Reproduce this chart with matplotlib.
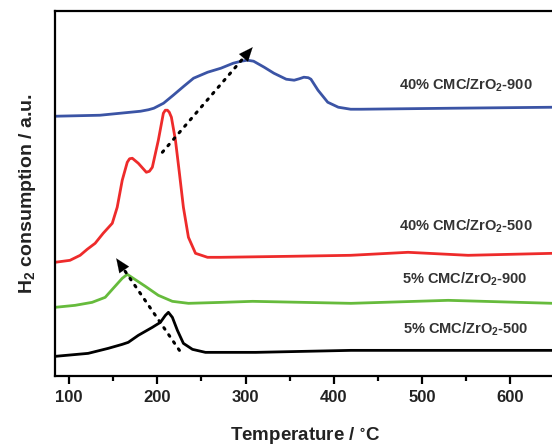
import matplotlib
matplotlib.use("Agg")
from matplotlib import pyplot as plt

plt.rcParams['font.family'] = ['Liberation Sans', 'DejaVu Sans']
plt.rcParams['font.weight'] = 'bold'
plt.rcParams['mathtext.default'] = 'regular'

# 40% CMC/ZrO2-900 (blue)
t_blue = [84, 135, 158, 181, 190, 196, 207, 218, 230, 241, 257, 272, 286, 295, 302, 309,
          321, 332, 346, 355, 361, 366, 371, 374, 382, 393, 405, 419, 431, 533, 649]
h_blue = [260, 261, 263, 265, 266.5, 268, 273, 281, 290, 298, 304, 308, 313, 315, 316, 315,
          309, 303, 297, 296, 297.5, 299, 298.5, 297, 286, 274, 269, 267, 267, 268, 269]

# 40% CMC/ZrO2-500 (red)
t_red = [84, 101, 112.5, 120.5, 129.5, 138.6, 148.9, 154.5, 160.2, 165.9, 168.5, 171.6,
         178.4, 187.5, 191, 194.3, 201.1, 206.8, 209, 211.4, 213.5, 215.9, 220.5, 225,
         229.5, 235.2, 243.2, 256.8, 271.6, 350, 419, 484, 552, 649]
h_red = [114, 116, 121, 127, 133, 143, 153, 169, 196, 214, 217.5, 218,
         213, 204, 205, 209, 236, 263, 266, 266, 264, 259, 236, 203,
         169, 139, 123, 119, 119, 120, 121, 124, 121, 123]

# 5% CMC/ZrO2-900 (green)
t_green = [84, 106.8, 126.1, 140.9, 150, 160.2, 165.9, 172.7, 186.4, 201.1, 217,
           235.2, 273.9, 308, 419.3, 529.5, 649]
h_green = [69, 71, 74, 79, 88, 98, 102, 98, 90, 81, 75,
           73, 74, 75, 73, 76, 73]

# 5% CMC/ZrO2-500 (black)
t_black = [84, 121.6, 144.3, 160.2, 167, 178.4, 194.3, 203.4, 209.1, 212.5, 217,
           222.7, 229.5, 239.8, 254.5, 280.7, 311.4, 419.3, 649]
h_black = [20, 23, 28, 32, 34, 41, 49, 54, 61, 64, 59,
           46, 33, 27, 24, 24, 24, 26, 26]

labels = ['40% CMC/ZrO$_2$-900', '40% CMC/ZrO$_2$-500',
          '5% CMC/ZrO$_2$-900', '5% CMC/ZrO$_2$-500']
label_x = [550, 550, 548, 549]
label_y = [291, 150, 97, 47]

# dotted arrows: (start, tip)
arrow_start = [(205.7, 224), (225, 26)]
arrow_tip = [(308, 329), (153.4, 118)]

fig = plt.figure(figsize=(5.52, 4.47), dpi=100)
ax = fig.add_axes([0.0996, 0.158, 0.905, 0.817])

style = dict(lw=2, solid_joinstyle='round', solid_capstyle='round')
ax.plot(t_blue, h_blue, color='#3b54a5', **style)
ax.plot(t_red, h_red, color='#ee2b2b', **style)
ax.plot(t_green, h_green, color='#66bb3c', **style)
ax.plot(t_black, h_black, color='black', **style)

for (x0, y0), (x1, y1) in zip(arrow_start, arrow_tip):
    # dotted shaft, stop a bit before the head
    fx = x0 + (x1 - x0) * 0.9
    fy = y0 + (y1 - y0) * 0.9
    ax.plot([x0, fx], [y0, fy], color='black', lw=2.2, linestyle=(0, (0.6, 2.2)),
            dash_capstyle='round')
    bx = x0 + (x1 - x0) * 0.87
    by = y0 + (y1 - y0) * 0.87
    ax.annotate('', xy=(x1, y1), xytext=(bx, by),
                arrowprops=dict(arrowstyle='-|>,head_length=1.0,head_width=0.42',
                                color='black', lw=0.1, shrinkA=0, shrinkB=0))

for txt, x, y in zip(labels, label_x, label_y):
    ax.text(x, y, txt, ha='center', va='center', fontsize=10.5, fontweight='bold',
            color='#333333')

ax.set_xlim(84, 649)
ax.set_ylim(0, 365)
ax.set_xticks([100, 200, 300, 400, 500, 600])
ax.set_xticks([150, 250, 350, 450, 550, 650], minor=True)
ax.set_yticks([])
ax.tick_params(axis='x', which='major', direction='out', length=6, width=1.6,
               labelsize=12, pad=4)
ax.tick_params(axis='x', which='minor', direction='out', length=3.5, width=1.6)
for lab in ax.get_xticklabels():
    lab.set_fontweight('bold')
    lab.set_color('#222222')
for side in ['left', 'bottom', 'top']:
    ax.spines[side].set_linewidth(1.6)
ax.spines['right'].set_visible(False)

ax.set_xlabel('Temperature / $^{\\circ}$C', fontsize=13.5, fontweight='bold',
              color='#222222', labelpad=14)
ax.set_ylabel('H$_2$ consumption / a.u.', fontsize=14, fontweight='bold',
              color='#222222', labelpad=12)

fig.savefig('out.png', dpi=100)
